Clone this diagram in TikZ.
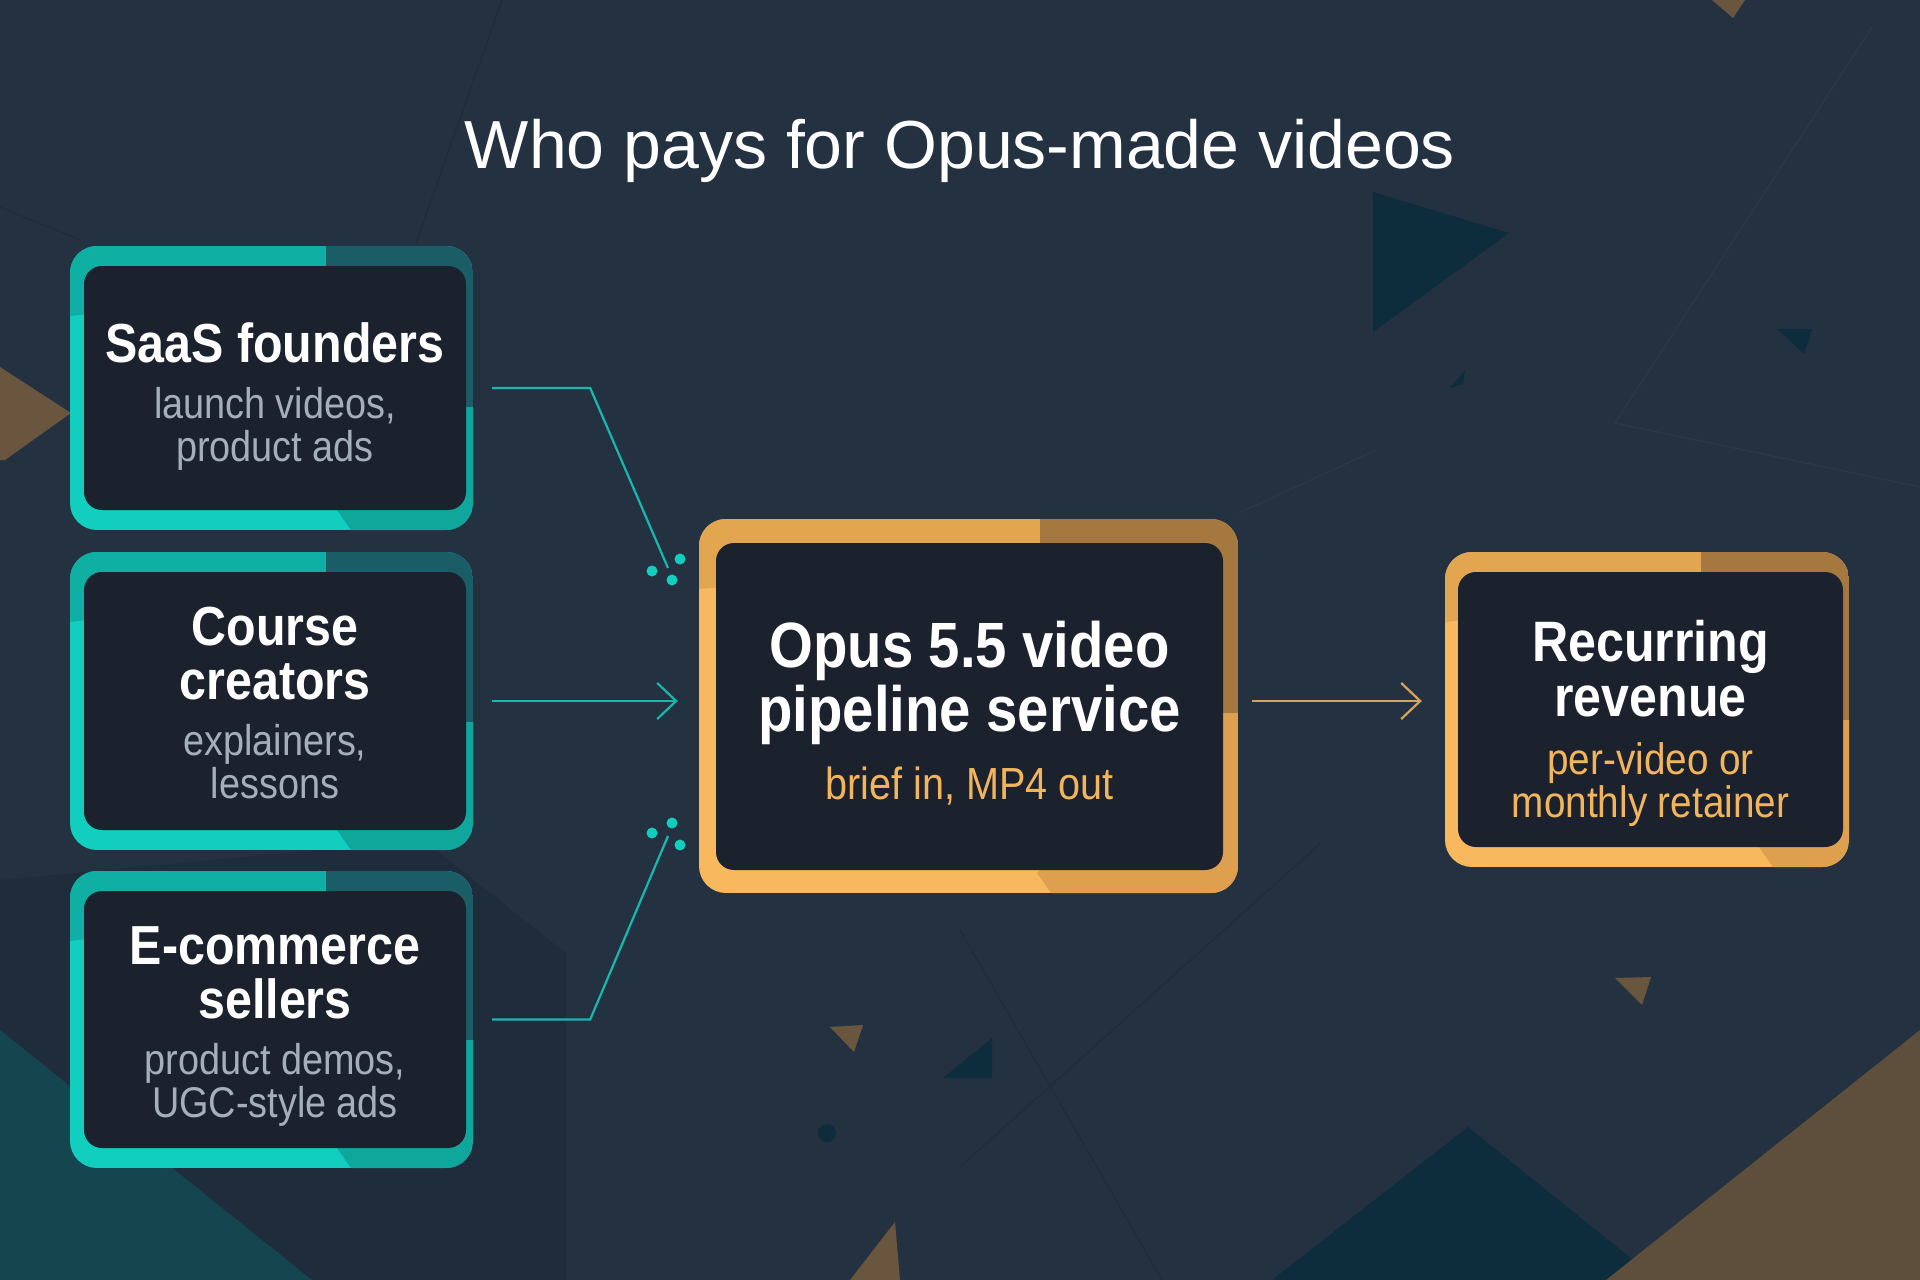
\documentclass[tikz,border=0pt]{standalone}
\usepackage{fontspec}
\setmainfont{Liberation Sans}
\newfontfamily\cardfont[FakeStretch=0.88]{Liberation Sans}
\usetikzlibrary{arrows.meta}

\definecolor{bgnavy}{HTML}{243141}
\definecolor{bgdark}{HTML}{1F2C3B}
\definecolor{bgteal}{HTML}{15454E}
\definecolor{deepteal}{HTML}{0D2C3C}
\definecolor{bgbrown}{HTML}{6A563F}
\definecolor{bigbrown}{HTML}{5E4E3C}
\definecolor{faintdark}{HTML}{202C3A}
\definecolor{faintlight}{HTML}{2A384A}
\definecolor{cardbg}{HTML}{1B212D}
\definecolor{tealA}{HTML}{12CEBF}
\definecolor{tealB}{HTML}{1B5D66}
\definecolor{tealC}{HTML}{0FA79C}
\definecolor{tealD}{HTML}{0FAFA3}
\definecolor{goldA}{HTML}{F8B85E}
\definecolor{goldB}{HTML}{A5783F}
\definecolor{goldC}{HTML}{DEA04F}
\definecolor{goldD}{HTML}{E2A550}
\definecolor{subgray}{HTML}{A4AFB9}
\definecolor{goldtext}{HTML}{F2B55B}
\definecolor{tealline}{HTML}{17B8AE}
\definecolor{goldline}{HTML}{D9A45A}

% frame round a card: x1, top, x2, bottom, split x, end of dark side, bottom facet x, palette
\newcommand{\cardframe}[8]{%
  \begin{scope}
    \clip[rounded corners=27pt] (#1,#2) rectangle (#3,#4);
    \fill[#8A] (#1,#2) rectangle (#3,#4);
    \fill[#8D] (#1,#2) -- (#5,#2) -- (#5,#2+40) -- (#1,#2+70) -- cycle;
    \fill[#8B] (#5,#2) rectangle (#3,#6);
    \fill[#8C] (#7,#4) -- (#3,#4) -- (#3,#6) -- (#3-40,#6) -- (#7-14,#4-20) -- cycle;
  \end{scope}}

% card type sizes (word space set by hand, the stretched font gets it wrong)
\newcommand{\cardhead}[2]{\fontsize{#1}{#2}\selectfont\bfseries
  \spaceskip=\dimexpr #1pt*240/1000\relax}
\newcommand{\cardsub}[3]{\fontsize{#1}{#2}\selectfont
  \spaceskip=\dimexpr #1pt*240/1000\relax\leavevmode\color{#3}}

\tikzset{
  card/.style 2 args={rounded corners=18pt, fill=cardbg, inner sep=0pt,
    minimum width=#1, minimum height=#2},
  cardtext/.style={anchor=base, text width=#1, align=center, inner sep=0pt,
    text=white, font=\cardfont},
  link/.style={draw=tealline, line width=2.2pt},
  goldlink/.style={draw=goldline, line width=2.2pt},
  barb/.style={-{Straight Barb[length=19pt,width=36pt]}},
  joint/.style={fill=tealA}
}

\begin{document}
\begin{tikzpicture}[x=1pt,y=-1pt]
  \useasboundingbox (0,0) rectangle (1920,1280);

  % background
  \fill[bgnavy] (0,0) rectangle (1920,1280);
  \fill[bgdark] (0,880) -- (423,840) -- (566,953) -- (566,1280) -- (0,1280) -- cycle;
  \fill[bgteal] (0,1030) -- (312,1280) -- (0,1280) -- cycle;
  \draw[faintdark, line width=1.2pt] (960,930) -- (1162,1280);
  \draw[faintdark, line width=1.2pt] (1321,843) -- (960,1167);
  \draw[faintlight, line width=1.2pt] (1872,27) -- (1615,423) -- (1920,487);
  \draw[faintlight, line width=1.2pt] (1376,450) -- (1239,513);
  \draw[faintdark, line width=1.2pt] (502,0) -- (416,243);
  \draw[faintdark, line width=1.2pt] (0,207) -- (80,240);
  \fill[bgbrown] (0,367) -- (71,413) -- (5,460) -- (0,460) -- cycle;
  \fill[deepteal] (1373,192) -- (1509,233) -- (1373,332) -- cycle;
  \fill[deepteal] (1777,329) -- (1812,329) -- (1804,354) -- cycle;
  \fill[deepteal] (1450,388) -- (1465,370) -- (1463,384) -- cycle;
  \fill[bgbrown] (1712,0) -- (1745,0) -- (1733,18) -- cycle;
  \fill[bgbrown] (830,1027) -- (863,1025) -- (854,1052) -- cycle;
  \fill[deepteal] (943,1078) -- (992,1038) -- (992,1078) -- cycle;
  \fill[deepteal] (827,1133) circle (9pt);
  \fill[bgbrown] (850,1280) -- (895,1222) -- (900,1280) -- cycle;
  \fill[deepteal] (1272,1280) -- (1468,1127) -- (1658,1280) -- cycle;
  \fill[bigbrown] (1920,1030) -- (1606,1280) -- (1920,1280) -- cycle;
  \fill[bgbrown] (1615,978) -- (1651,977) -- (1642,1005) -- cycle;

  \node[anchor=base, text=white, font=\fontsize{68}{80}\selectfont] (title) at (960,168)
    {Who pays for Opus-made videos};

  % frames
  \cardframe{70}{246}{473}{530}{326}{407}{351}{teal}
  \cardframe{70}{552}{473}{850}{326}{722}{351}{teal}
  \cardframe{70}{871}{473}{1168}{326}{1040}{351}{teal}
  \cardframe{699}{519}{1238}{893}{1040}{713}{1051}{gold}
  \cardframe{1445}{552}{1849}{867}{1701}{720}{1773}{gold}

  % cards
  \node[card={382pt}{244pt}] (saas) at (275,388) {};
  \node[card={382pt}{258pt}] (course) at (275,701) {};
  \node[card={382pt}{257pt}] (ecom) at (275,1019.5) {};
  \node[card={507pt}{327pt}] (pipe) at (969.5,706.5) {};
  \node[card={385pt}{275pt}] (revenue) at (1650.5,709.5) {};

  \node[cardtext=370pt] (saas-txt) at (275,362)
    {{\cardhead{55}{54}SaaS founders\par}\vskip13pt
     {\cardsub{43}{43}{subgray}launch videos,\\product ads\par}};
  \node[cardtext=370pt] (course-txt) at (275,645)
    {{\cardhead{55}{54}Course\\creators\par}\vskip13pt
     {\cardsub{43}{43}{subgray}explainers,\\lessons\par}};
  \node[cardtext=370pt] (ecom-txt) at (275,964)
    {{\cardhead{55}{54}E-commerce\\sellers\par}\vskip13pt
     {\cardsub{43}{43}{subgray}product demos,\\UGC-style ads\par}};
  \node[cardtext=500pt] (pipe-txt) at (969.5,667)
    {{\cardhead{64}{64}Opus 5.5 video\\pipeline service\par}\vskip22pt
     {\cardsub{45}{45}{goldtext}brief in, MP4 out\par}};
  \node[cardtext=380pt] (revenue-txt) at (1650.5,661)
    {{\cardhead{57}{55}Recurring\\revenue\par}\vskip15pt
     {\cardsub{44}{43}{goldtext}per-video or\\monthly retainer\par}};

  % connectors
  \coordinate (saas-in) at (668,568);
  \coordinate (ecom-in) at (668,836);
  \coordinate (pipe-in) at ([xshift=-38pt]pipe.west);
  \coordinate (pipe-out) at ([xshift=29pt]pipe.east);
  \coordinate (rev-in) at ([xshift=-36pt]revenue.west);
  \draw[link] ([xshift=26pt]saas.east) -- ++(98,0) -- (saas-in);
  \draw[link, barb] ([xshift=26pt]course.east) -- (pipe-in |- course.east);
  \draw[link] ([xshift=26pt]ecom.east) -- ++(98,0) -- (ecom-in);
  \draw[goldlink, barb] (pipe-out |- course.east) -- (rev-in |- course.east);
  \fill[joint] (652,571) circle (5.5pt) (680,559) circle (5.5pt) (672,580) circle (5.5pt);
  \fill[joint] (652,833) circle (5.5pt) (672,823) circle (5.5pt) (680,845) circle (5.5pt);
\end{tikzpicture}
\end{document}
